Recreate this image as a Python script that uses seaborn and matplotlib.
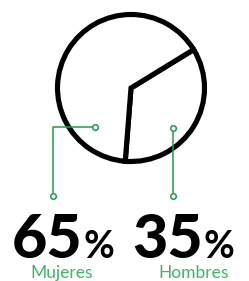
import matplotlib
matplotlib.use("Agg")
import matplotlib.pyplot as plt
import seaborn as sns

# Data
labels = ["Hombres", "Mujeres"]
values = [35, 65]
value_text = ["35", "65"]

sns.set_theme(style="white")
plt.rcParams['font.family'] = ['Lato', 'DejaVu Sans']

H = 281
fig = plt.figure(figsize=(2.49, 2.81), dpi=100)
ax = fig.add_axes([0, 0, 1, 1])

# pie with thick black outline
ax.pie(values, startangle=-94.5, counterclock=True, center=(131, H - 88), radius=73.5,
       colors=["white", "white"],
       wedgeprops=dict(edgecolor="black", linewidth=3.7, joinstyle="miter"))
ax.set_xlim(0, 249)
ax.set_ylim(0, H)
ax.set_aspect("equal")
ax.axis("off")

green = "#1c9e4a"
label_green = "#3fb768"

# callout lines
callouts = {
    "Mujeres": ([95, 53, 53], [127, 127, 196]),
    "Hombres": ([173, 173], [128, 196]),
}
for name, (xs, ys) in callouts.items():
    ys = [H - y for y in ys]
    ax.plot(xs, ys, color=green, lw=1.1, solid_capstyle="butt")
    ax.plot([xs[0], xs[-1]], [ys[0], ys[-1]], "o", ms=4, mfc="white", mec=green, mew=1.1)

# big numbers and labels
num_x = {"Mujeres": 82, "Hombres": 203}
lab_x = {"Mujeres": 62, "Hombres": 194}
for name, val in zip(labels, value_text):
    ax.text(num_x[name], H - 258, val, ha="right", va="baseline", fontsize=44,
            fontweight="black", color="black")
    ax.text(num_x[name] + 1, H - 258, "%", ha="left", va="baseline", fontsize=27,
            fontweight="bold", color="black")
    ax.text(lab_x[name], H - 278, name, ha="center", va="baseline", fontsize=12.5,
            fontweight="normal", color=label_green)

fig.savefig("out.png", dpi=100)
